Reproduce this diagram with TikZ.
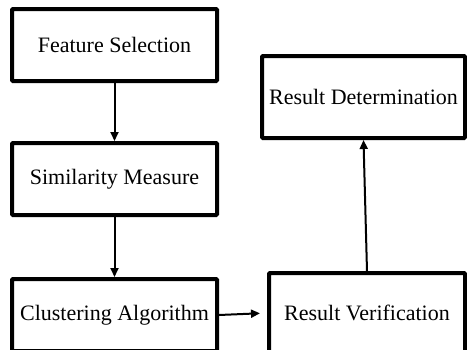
\documentclass[tikz,border=0pt]{standalone}
\usepackage{fontspec}
\setmainfont{Liberation Serif}
\usetikzlibrary{arrows.meta}
\begin{document}
\begin{tikzpicture}[x=1pt,y=-1pt,
  stepbox/.style={draw=black, line width=4pt, rounded corners=1pt, fill=white,
    inner sep=0pt, font=\fontsize{22pt}{26pt}\selectfont},
  conn/.style={line width=2pt, -{Triangle[length=9pt,width=8pt]}}]
\useasboundingbox (0,0) rectangle (467,349);
\fill[white] (0,0) rectangle (467,349);
\clip (0,0) rectangle (467,349);
\node[stepbox, minimum width=205pt, minimum height=72pt] (fs) at (114.5,45) {Feature Selection};
\node[stepbox, minimum width=205pt, minimum height=72pt] (sm) at (114.5,179) {Similarity Measure};
\node[stepbox, minimum width=205pt, minimum height=72pt] (ca) at (114.5,315) {Clustering Algorithm};
\node[stepbox, minimum width=203pt, minimum height=82pt] (rd) at (363.5,97) {Result Determination};
\node[stepbox, minimum width=196pt, minimum height=80pt] (rv) at (367,313) {Result Verification};
\draw[conn] (fs) -- (sm);
\draw[conn] (sm) -- (ca);
\draw[conn, shorten >=7pt] (ca.east) -- (rv.west);
\draw[conn] (rv.north) -- (rd.south);
\end{tikzpicture}
\end{document}
